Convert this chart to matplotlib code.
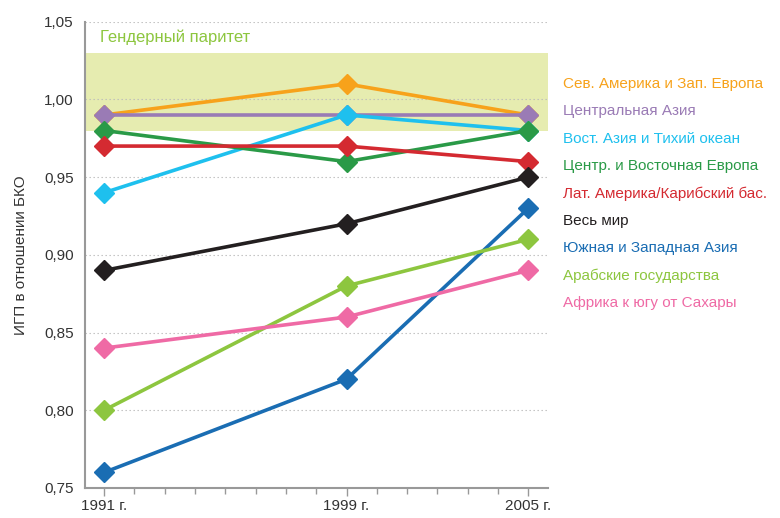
import numpy as np
import matplotlib
matplotlib.use('Agg')
import matplotlib.pyplot as plt
from matplotlib.ticker import FixedLocator, FuncFormatter

plt.rcParams['font.family'] = ['Liberation Sans', 'DejaVu Sans']

#==============================================================================
#                               data
#==============================================================================
years = [1991, 1999, 2005]
year_labels = ['1991 г.', '1999 г.', '2005 г.']

regions = ['Сев. Америка и Зап. Европа',
           'Центральная Азия',
           'Вост. Азия и Тихий океан',
           'Центр. и Восточная Европа',
           'Лат. Америка/Карибский бас.',
           'Весь мир',
           'Южная и Западная Азия',
           'Арабские государства',
           'Африка к югу от Сахары']

na_we   = [0.99, 1.01, 0.99]
central = [0.99, 0.99, 0.99]
east    = [0.94, 0.99, 0.98]
cee     = [0.98, 0.96, 0.98]
latam   = [0.97, 0.97, 0.96]
world   = [0.89, 0.92, 0.95]
south   = [0.76, 0.82, 0.93]
arab    = [0.80, 0.88, 0.91]
africa  = [0.84, 0.86, 0.89]

series = [na_we, central, east, cee, latam, world, south, arab, africa]
colors = ['#f7a21b', '#9a7bb5', '#1ec0ee', '#2a9a47', '#d42a31',
          '#231f20', '#1a6db3', '#8dc63f', '#ef6aa5']

parity_low, parity_high = 0.98, 1.03

#==============================================================================
fig = plt.figure(figsize=(7.8, 5.18), dpi=100)
ax = fig.add_axes([0.109, 0.058, 0.594, 0.9])

ax.axhspan(parity_low, parity_high, color='#e6ecb0', zorder=0, lw=0)
ax.text(1991 - 0.13, 1.04, 'Гендерный паритет', color='#8dc63f',
        fontsize=12, va='center', ha='left')

for yv in np.arange(0.80, 1.051, 0.05):
    ax.axhline(yv, color='#bbbbbb', ls=(0, (1.2, 2.4)), lw=0.8, zorder=1)

# draw order picked so overlaps look like the original
order = [0, 1, 2, 4, 3, 5, 6, 7, 8]
for i in order:
    ax.plot(years, series[i], color=colors[i], lw=2.6, marker='D',
            markersize=10, zorder=3 + i)

#--------------------------------------------------------------------
ax.set_xlim(1990.37, 2005.66)
ax.set_ylim(0.75, 1.05)

ax.xaxis.set_major_locator(FixedLocator(years))
ax.xaxis.set_minor_locator(FixedLocator(range(1991, 2006)))
ax.set_xticklabels(year_labels, fontsize=11, color='#333333')
ax.tick_params(axis='x', which='major', length=6, width=1, color='#999999', pad=2)
ax.tick_params(axis='x', which='minor', length=4.5, width=1, color='#999999')

ax.set_yticks(np.arange(0.75, 1.051, 0.05))
ax.yaxis.set_major_formatter(FuncFormatter(lambda v, p: ('%.2f' % v).replace('.', ',')))
ax.tick_params(axis='y', length=0, labelsize=11, labelcolor='#333333', pad=8)

for s in ['top', 'right']:
    ax.spines[s].set_visible(False)
for s in ['left', 'bottom']:
    ax.spines[s].set_color('#999999')
    ax.spines[s].set_linewidth(1.5)

ax.set_ylabel('ИГП в отношении БКО', fontsize=11, color='#333333', labelpad=12)

#--------------------------------------------------------------------
#                     legend as coloured text
#--------------------------------------------------------------------
y0 = 1 - 84 / 518.0
dy = 27.4 / 518.0
for k, name in enumerate(regions):
    fig.text(563 / 780.0, y0 - k * dy, name, color=colors[k], fontsize=11,
             va='center', ha='left')

plt.savefig('out.png', dpi=100)
